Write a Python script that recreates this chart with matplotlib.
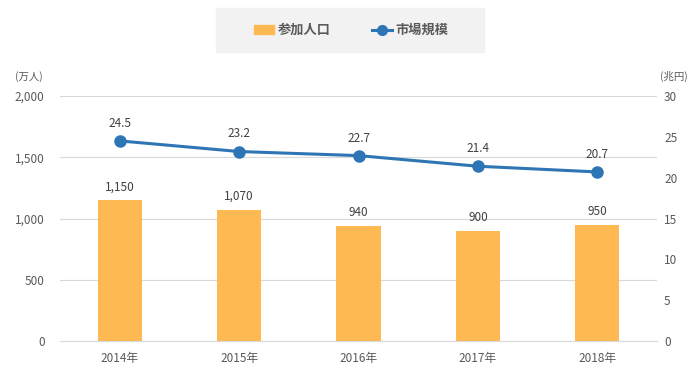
import matplotlib
matplotlib.use('Agg')
from matplotlib import pyplot as plt
from matplotlib.patches import Patch, Rectangle
from matplotlib.lines import Line2D
import numpy as np

plt.rcParams['font.family'] = ['Noto Sans CJK JP', 'DejaVu Sans']

years = ['2014年', '2015年', '2016年', '2017年', '2018年']
participants = [1150, 1070, 940, 900, 950]   # 万人
market = [24.5, 23.2, 22.7, 21.4, 20.7]      # 兆円

bar_color = '#ffb952'
line_color = '#2e75b6'
text_color = '#595959'

fig = plt.figure(figsize=(7, 3.82), dpi=100)
ax = fig.add_axes([0.0857, 0.1073, 0.853, 0.6414])
x = np.arange(len(years))

ax.bar(x, participants, width=0.37, color=bar_color, zorder=2)
for xi, v in zip(x, participants):
    ax.annotate(f'{v:,}', (xi, v), xytext=(0, 5), textcoords='offset points',
                ha='center', va='bottom', fontsize=8.5, color='#404040')

ax.set_xlim(-0.5, 4.5)
ax.set_ylim(0, 2000)
ax.set_yticks([0, 500, 1000, 1500, 2000])
ax.set_yticklabels([f'{t:,}' for t in [0, 500, 1000, 1500, 2000]])
ax.set_xticks(x)
ax.set_xticklabels(years)
ax.grid(axis='y', color='#d9d9d9', linewidth=0.8, zorder=0)
ax.set_axisbelow(True)
for s in ['top', 'right', 'left']:
    ax.spines[s].set_visible(False)
ax.spines['bottom'].set_color('#d9d9d9')
ax.tick_params(axis='both', length=0, labelsize=8.5, labelcolor=text_color)
ax.tick_params(axis='x', pad=8)
ax.tick_params(axis='y', pad=11)

ax2 = ax.twinx()
ax2.set_ylim(0, 30)
ax2.set_yticks([0, 5, 10, 15, 20, 25, 30])
for s in ax2.spines.values():
    s.set_visible(False)
ax2.tick_params(axis='y', length=0, labelsize=8.5, labelcolor=text_color, pad=5)
ax2.plot(x, market, color=line_color, linewidth=2.2, marker='o', markersize=8, zorder=3)
for xi, v in zip(x, market):
    ax2.annotate(f'{v}', (xi, v), xytext=(0, 8), textcoords='offset points',
                 ha='center', va='bottom', fontsize=8.5, color='#404040')

fig.text(0.022, 0.80, '(万人)', fontsize=7.5, color=text_color, va='center')
fig.text(0.943, 0.80, '(兆円)', fontsize=7.5, color=text_color, va='center')

# grey legend background
fig.patches.append(Rectangle((216 / 700, 1 - 52 / 382), 268 / 700, 44 / 382,
                             color='#f2f2f2', transform=fig.transFigure, zorder=0))

handles = [Patch(color=bar_color, label='参加人口'),
           Line2D([0], [0], color=line_color, linewidth=2.2, marker='o', markersize=7, label='市場規模')]
leg = fig.legend(handles=handles, loc='center', bbox_to_anchor=(0.502, 0.921), ncol=2,
                 frameon=False, borderpad=0, borderaxespad=0, columnspacing=3.1,
                 handlelength=1.5, handletextpad=0.3,
                 prop={'size': 9.5, 'weight': 'bold'})
for t in leg.get_texts():
    t.set_color(text_color)

fig.savefig('out.png', dpi=100)
